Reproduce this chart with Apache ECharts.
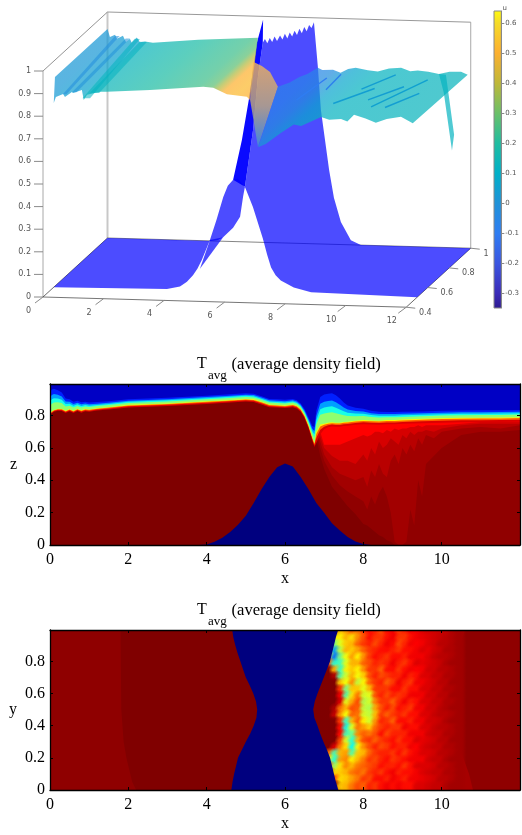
<!DOCTYPE html>
<html><head><meta charset="utf-8">
<style>html,body{margin:0;padding:0;background:#fff}#c{width:522px;height:835px}</style>
<script src="https://cdn.jsdelivr.net/npm/echarts@6/dist/echarts.min.js"></script>
</head><body><div id="c"></div>
<script>
// ---------- colour bar values ----------
const colorbarU=[-0.35,-0.3,-0.2,-0.1,0,0.1,0.2,0.3,0.4,0.5,0.6,0.64];
const colorbarHex=['#2e1a90','#3a2bb8','#3b55e0','#2f7df2','#2092d8','#00b0c8','#20bda0','#6cc068','#c0b838','#fdb030','#f5dc28','#fffa10'];
const colorbarTicks=[-0.3,-0.2,-0.1,0,0.1,0.2,0.3,0.4,0.5,0.6];
// ---------- 3D panel ticks ----------
const ticks3Dx=[0,2,4,6,8,10,12];
const ticks3Dy=[0.4,0.6,0.8,1];
const ticks3Dz=[0,0.1,0.2,0.3,0.4,0.5,0.6,0.7,0.8,0.9,1];
// ---------- 3D panel: topography ----------
const hillFrontX=[0,3.74,4.17,4.4,4.6,4.75,4.89,5.16,5.38,5.6,5.75,5.92,6.08,6.32,6.58,6.91,7.05,7.18,7.33,7.5,7.93,8.5,12];
const hillFrontZ=[0,.006,.019,.04,.07,.1,.139,.228,.32,.42,.47,.497,.504,.466,.38,.24,.17,.114,.08,.058,.028,.01,0];
const hillBackX=[0,3.4,3.65,3.82,4.15,4.38,4.48,4.54,4.81,4.97,5.13,5.2,5.28,5.36,5.44,5.52,5.6,5.7,5.78,5.86,5.94,6.02,6.1,6.18,6.26,6.34,6.42,6.5,6.58,6.66,6.74,6.82,6.95,7.05,7.32,7.48,7.71,8.04,8.37,12];
const hillBackZ=[0,0,.005,.018,.061,.11,.2,.244,.497,.732,.883,.9,.882,.905,.888,.912,.893,.918,.9,.926,.905,.932,.915,.94,.922,.95,.93,.958,.94,.968,.955,.98,.783,.593,.33,.206,.1,.02,0,0];
const foldX=[4.15,4.44,4.67,4.94,5.14];
const foldZ=[.273,.45,.63,.885,.985];
// ---------- 3D panel: free surface ----------
const surfFrontX=[0,.07,.31,.37,.6,.64,.93,.99,1.1,1.53,1.75,3.18,4.94,5.27,5.72,6.38,6.48];
const surfFrontZ=[.815,.842,.856,.843,.866,.862,.876,.832,.855,.87,.871,.884,.905,.902,.875,.866,.853];
const surfBackX=[0,.08,.25,.31,.51,.61,.74,.8,.97,1.07,1.24,1.5,3,4.97];
const surfBackZ=[.925,.89,.9,.883,.897,.87,.884,.867,.891,.87,.874,.87,.888,.905];
const surfGradX=[0,1,1.3,3,4.5,4.95,5.2,5.5,6,6.5];
const surfGradU=[.02,.06,.13,.19,.24,.28,.38,.5,.52,.5];
const humpX=[4.81,5.1,5.37,5.63,4.97,4.71];
const humpZ=[.798,.78,.755,.69,.422,.629];
const wakeFrontX=[6.75,7,7.5,7.93,8.17,8.83,9.1,9.49,9.7,9.92,10.3,10.64,11,11.47,11.86];
const wakeFrontZ=[.645,.66,.71,.75,.744,.786,.775,.78,.77,.8,.785,.768,.785,.797,.77];
const wakeBackX=[5.63,6,6.36,6.6,6.95,7.1,7.45,7.7,7.95,8.2,8.6,8.93,9.3,9.7,10,10.25,10.6,10.95,11.3,11.68,11.9];
const wakeBackZ=[.69,.71,.737,.75,.78,.77,.772,.76,.778,.784,.775,.77,.785,.79,.775,.78,.775,.767,.778,.78,.767];
const wakeGradX=[5.6,7,7.6,8.2,9,12];
const wakeGradU=[-.08,-.06,-.02,.07,.12,.13];
const dripX=[10.95,11.18,11.45,11.38,11.11];
const dripZ=[.767,.764,.5,.43,.685];
const ridgeFrontX=[[.3,.42],[.6,.75],[.95,1.2],[1.2,1.5]];
const ridgeBackX=[[.25,.4],[.6,.74],[.9,1.07],[1.07,1.3]];
const ridgeFrontZ=[.855,.865,.84,.865];
const ridgeBackZ=[.895,.885,.885,.872];
const ridgeU=[-.02,.0,.12,.12];
const streakX=[[10.03,10.9],[7.98,7.93],[9.69,10.38],[8.7,9.5],[9.1,9.7],[7.4,7.6],[10.5,11.1]];
const streakS=[[.255,.82],[.57,.88],[.39,.67],[.3,.62],[.6,.9],[.35,.8],[.25,.55]];
const streakU=[.11,-.02,.1,.1,.1,-.04,.1];
// ---------- middle panel ----------
const midX=[0,.05,.1,.2,.3,.4,.5,.6,.7,.8,.9,1,1.2,1.5,2,3,4,4.5,5,5.2,5.4,5.6,5.8,6,6.2,6.3,6.4,6.5,6.6,6.7,6.75,6.8,6.9,7,7.1,7.2,7.3,7.4,7.5,7.6,7.8,8,8.2,8.4,8.6,8.8,9,9.5,10,10.5,11,11.5,12];
const midZ=[.817,.826,.835,.842,.842,.83,.84,.83,.842,.832,.84,.838,.845,.852,.866,.875,.888,.895,.903,.9,.885,.868,.865,.862,.868,.86,.84,.8,.74,.665,.63,.7,.745,.75,.755,.758,.755,.755,.76,.762,.768,.772,.77,.768,.772,.772,.775,.78,.784,.786,.787,.788,.79];
const midBelow=[.012,.012,.012,.012,.014,.014,.014,.014,.014,.014,.014,.014,.014,.015,.016,.016,.016,.016,.016,.016,.016,.016,.016,.016,.016,.016,.016,.016,.018,.02,.025,.07,.06,.035,.028,.025,.024,.024,.024,.025,.025,.025,.025,.025,.026,.026,.026,.028,.028,.028,.028,.028,.028];
const midAbove=[.13,.135,.13,.115,.1,.075,.06,.055,.05,.05,.045,.042,.038,.036,.035,.035,.035,.035,.035,.035,.035,.035,.035,.035,.035,.035,.035,.04,.05,.07,.1,.13,.17,.18,.18,.18,.17,.15,.12,.1,.08,.07,.06,.055,.05,.05,.048,.045,.045,.045,.045,.045,.045];
const contourT=[.92,.8,.66,.52,.38,.26,.14,.06];
const contourFrac=[-1,-.55,-.2,0,.35,.55,.75,1];
const hillX=[3.8,4,4.2,4.4,4.6,4.8,5,5.2,5.4,5.6,5.8,6,6.2,6.4,6.6,6.8,7,7.2,7.4,7.6,7.8,8,8.2];
const hillZ=[0,.003,.02,.045,.08,.125,.18,.26,.345,.42,.48,.503,.485,.42,.345,.26,.2,.135,.09,.05,.022,.006,0];
const plumeX=[6.8,6.9,7,7.2,7.4,7.6,7.8,8,8.1,8.2,8.3,8.4,8.5,8.6,8.7,8.8,8.9,9,9.1,9.2,9.3,9.4,9.5,9.6,9.8,10,10.5,11,11.5,12];
const plumeT=[.985,.97,.95,.925,.89];
const plumeLow=[
 [.66,.55,.47,.36,.3,.24,.19,.13,.12,.1,.08,.06,.05,.03,.02,0,0,0,0,0,0,0,0,0,0,0,0,0,0,0],
 [.7,.6,.52,.43,.37,.33,.3,.27,.22,.3,.25,.32,.36,.3,.2,.02,0,0,.02,.22,.12,.4,.3,.5,.55,.6,.68,.7,.7,.71],
 [.72,.64,.56,.48,.44,.42,.4,.42,.36,.46,.42,.5,.44,.42,.52,.56,.5,.6,.56,.62,.58,.66,.62,.68,.66,.7,.72,.73,.72,.74],
 [.76,.67,.6,.55,.52,.52,.5,.56,.52,.6,.56,.64,.6,.62,.66,.64,.62,.68,.66,.7,.68,.7,.7,.71,.7,.72,.74,.75,.75,.75],
 [.8,.7,.62,.62,.62,.64,.66,.68,.67,.68,.7,.7,.69,.71,.7,.72,.71,.72,.72,.73,.73,.74,.73,.74,.74,.74,.75,.76,.76,.76]
];
// ---------- bottom panel ----------
const botY=[0,.05,.1,.15,.2,.25,.3,.35,.4,.45,.5,.55,.6,.65,.7,.75,.8,.85,.9,.95,1];
const botLeftEdge=[4.63,4.66,4.7,4.75,4.8,4.9,5,5.11,5.2,5.27,5.29,5.26,5.19,5.1,5,4.93,4.86,4.79,4.73,4.68,4.65];
const botRightEdge=[7.36,7.3,7.25,7.2,7.15,7.07,6.98,6.9,6.83,6.75,6.72,6.76,6.83,6.91,6.99,7.07,7.15,7.2,7.25,7.3,7.36];
const inflowY=[0,.05,.1,.15,.2,.3,.5,1];
const inflowX=[2.2,2.1,2.05,2,1.95,1.88,1.82,1.8];
const fadeY=[0,.1,.2,.3,.5,.7,.85,1];
const fadeX=[10.8,10.7,10.55,10.35,10.3,10.3,10.4,10.6];
const heatX=[6.7,6.85,7,7.15,7.3,7.45,7.6,7.75,7.9,8.05,8.2,8.35,8.5,8.65,8.8,8.95,9.1,9.25,9.4,9.55,9.7,9.85,10,10.15,10.3,10.45];
const heatY=[.98,.94,.9,.86,.82,.78,.74,.7,.66,.62,.58,.54,.5,.46,.42,.38,.34,.3,.26,.22,.18,.14,.1,.06,.02];
const heatT=[
[100,100,100,100,100,70,74,80,78,84,88,86,82,88,90,84,86,90,90,92,93,93,94,94,96,97],
[100,100,100,100,66,66,72,68,76,82,88,84,84,88,90,84,84,88,90,91,92,93,94,95,96,97],
[100,100,100,100,50,62,70,72,80,84,86,82,86,90,88,82,86,90,89,90,92,93,95,95,96,97],
[100,100,100,60,26,58,72,70,74,80,84,86,88,88,86,84,88,88,90,92,91,93,94,96,96,97],
[100,100,100,60,22,50,64,74,66,76,84,88,86,84,88,88,86,90,90,90,92,94,95,95,96,97],
[100,100,100,82,40,44,62,72,72,80,82,86,84,86,90,86,84,88,92,91,92,93,94,96,97,97],
[100,100,100,100,72,42,66,70,66,76,84,84,80,88,88,84,88,90,89,90,93,93,95,95,96,97],
[100,100,100,100,96,46,60,72,64,70,82,86,82,84,86,86,90,86,88,92,92,94,94,96,96,97],
[100,100,100,100,100,70,64,76,58,66,80,84,86,80,84,90,86,84,90,90,92,93,95,95,97,97],
[100,100,100,100,100,84,50,70,70,62,72,84,84,84,88,88,84,88,88,92,92,94,94,96,96,97],
[100,100,100,100,100,90,46,68,78,60,62,82,86,82,86,84,86,90,90,90,93,93,95,95,97,97],
[100,100,100,100,100,92,62,74,82,56,60,78,84,84,80,86,90,86,88,92,92,94,94,96,96,97],
[100,100,100,100,96,78,72,82,80,58,56,74,82,86,82,88,86,84,90,90,93,93,95,96,97,97],
[100,100,100,100,94,74,64,80,78,60,58,72,84,80,84,86,84,88,88,92,92,94,95,95,96,97],
[100,100,100,100,100,84,42,72,80,66,60,76,86,84,80,88,88,86,90,90,93,93,94,96,97,97],
[100,100,100,100,100,88,38,62,78,74,70,80,84,86,84,84,90,88,88,92,92,94,95,95,96,97],
[100,100,100,100,100,88,44,48,76,80,78,82,88,82,86,86,86,90,90,90,93,94,94,96,96,97],
[100,100,100,100,100,82,60,40,72,82,84,80,84,86,88,84,88,88,92,91,92,93,95,95,97,97],
[100,100,100,100,92,76,68,36,66,76,82,86,82,84,88,86,86,90,89,92,93,94,94,96,96,97],
[100,100,100,78,44,72,74,46,70,72,80,84,86,86,84,88,84,88,90,92,92,93,95,95,96,97],
[100,100,100,64,40,74,76,66,72,78,84,82,86,88,84,86,88,90,90,90,93,94,94,96,97,97],
[100,100,100,84,54,68,76,72,78,80,82,84,88,86,86,88,84,88,92,92,92,93,95,95,96,97],
[100,100,100,100,68,70,72,78,80,78,84,86,84,88,90,86,88,88,90,92,93,94,94,96,96,97],
[100,100,100,100,82,68,70,74,78,84,82,88,88,86,90,88,86,90,90,91,92,93,95,95,96,97],
[100,100,100,100,100,70,72,78,82,80,86,84,88,90,88,90,88,88,92,92,93,94,94,96,97,97]
];
const xTicks=[0,2,4,6,8,10,12];

// ---------- colour helpers ----------
const jetStops=[[0,0,0,127],[.11,0,0,255],[.35,0,255,255],[.5,127,255,127],[.65,255,255,0],[.89,255,0,0],[1,127,0,0]];
function jet(v){v=Math.max(0,Math.min(1,v));for(let i=1;i<jetStops.length;i++){if(v<=jetStops[i][0]){const a=jetStops[i-1],b=jetStops[i],t=(v-a[0])/(b[0]-a[0]);return [1,2,3].map(k=>Math.round(a[k]+(b[k]-a[k])*t));}}return [127,0,0];}
const jetCss=(v,al)=>{const c=jet(v);return al===undefined?`rgb(${c})`:`rgba(${c},${al})`;};
function hexRgb(h){return [1,3,5].map(i=>parseInt(h.substr(i,2),16));}
function parula(u){for(let i=1;i<colorbarU.length;i++){if(u<=colorbarU[i]){const a=hexRgb(colorbarHex[i-1]),b=hexRgb(colorbarHex[i]),t=Math.max(0,(u-colorbarU[i-1])/(colorbarU[i]-colorbarU[i-1]));return `rgb(${a.map((v,k)=>Math.round(v+(b[k]-v)*t))})`;}}return colorbarHex[colorbarHex.length-1];}

// ---------- oblique projection for the 3D panel ----------
const O=[43,297],AX=[30.27,.85],AY=[64.5,-59],AZ=226;
const P=(x,y,z)=>{const t=(y-.4)/.6;return [O[0]+AX[0]*x+AY[0]*t,O[1]+AX[1]*x+AY[1]*t-AZ*z];};
const curve=(xs,zs,y)=>xs.map((x,i)=>P(x,y,zs[i]));
const pick=(xs,zs,lo,hi)=>{const a=[],b=[];xs.forEach((x,i)=>{if(x>=lo&&x<=hi){a.push(x);b.push(zs[i]);}});return [a,b];};
function xGradient(xs,us,z){
  const dn=Math.hypot(49,53.75),nx=49/dn,ny=53.75/dn;
  const A=P(xs[0],.5,z),B=P(xs[xs.length-1],.5,z);
  const L=(B[0]-A[0])*nx+(B[1]-A[1])*ny;
  const stops=xs.map((x,i)=>({offset:(x-xs[0])/(xs[xs.length-1]-xs[0]),color:parula(us[i])}));
  return new echarts.graphic.LinearGradient(A[0],A[1],A[0]+nx*L,A[1]+ny*L,stops,true);
}

// ---------- build 3D polygons ----------
const polys3D=[];
const BLUE='rgb(0,0,255)';
{
  const [fl,flz]=pick(hillFrontX,hillFrontZ,0,6.32), [bl,blz]=pick(hillBackX,hillBackZ,0,4.54);
  polys3D.push({pts:curve(fl,flz,.5).concat(curve(bl,blz,1).reverse()),fill:BLUE,op:.7});
  const [fr,frz]=pick(hillFrontX,hillFrontZ,6.32,12), [br,brz]=pick(hillBackX,hillBackZ,4.54,12);
  polys3D.push({pts:curve(fr,frz,.5).concat(curve(br,brz,1).reverse()),fill:BLUE,op:.7});
  // double-covered fold of the hillside
  const [b2,b2z]=pick(hillBackX,hillBackZ,4.54,5.13);
  polys3D.push({pts:curve(foldX,foldZ,1).concat(curve(b2,b2z,1).reverse()),fill:BLUE,op:.96});
  polys3D.push({pts:[P(4.83,.5,.1),P(5.16,.5,.228),P(3.82,1,.018)],fill:BLUE,op:.7});
  // free surface, left part
  polys3D.push({pts:curve(surfFrontX,surfFrontZ,.5).concat(curve(surfBackX,surfBackZ,1).reverse(),[P(.04,.5,.93)]),
    fill:xGradient(surfGradX,surfGradU,.87),op:.72});
  ridgeFrontX.forEach((r,i)=>{
    polys3D.push({pts:[P(r[0],.5,ridgeFrontZ[i]),P(r[1],.5,ridgeFrontZ[i]),P(ridgeBackX[i][1],1,ridgeBackZ[i]),P(ridgeBackX[i][0],1,ridgeBackZ[i])],fill:parula(ridgeU[i]),op:.55});
  });
  // hump seen through the sheet
  const h=curve(humpX,humpZ,1);
  polys3D.push({pts:h,fill:new echarts.graphic.LinearGradient(0,62,0,150,[{offset:0,color:'rgba(250,185,80,.78)'},{offset:.5,color:'rgba(190,170,120,.8)'},{offset:1,color:'rgba(50,140,225,.85)'}].map(s=>s),true),op:1});
  // wake part
  polys3D.push({pts:curve(wakeFrontX,wakeFrontZ,.5).concat(curve(wakeBackX,wakeBackZ,1).reverse()),fill:xGradient(wakeGradX,wakeGradU,.78),op:.72});
  polys3D.push({pts:curve(dripX,dripZ,1),fill:parula(.12),op:.7});
}
const lines3D=[];
const c=(x,y,z)=>P(x,y,z);
lines3D.push({pts:[c(0,1,0),c(0,1,1)],col:'#c8c8c8',w:2});
lines3D.push({pts:[c(0,.4,0),c(0,.4,1)],col:'#a8a8a8',w:1});
lines3D.push({pts:[c(12,1,0),c(12,1,1)],col:'#a8a8a8',w:1});
lines3D.push({pts:[c(0,.4,1),c(0,1,1)],col:'#777',w:.8});
lines3D.push({pts:[c(0,1,1),c(12,1,1)],col:'#999',w:1});
lines3D.push({pts:[c(0,1,0),c(12,1,0)],col:'#777',w:.9});
lines3D.push({pts:[c(0,.4,0),c(12,.4,0)],col:'#666',w:.9});
lines3D.push({pts:[c(0,.4,0),c(0,1,0)],col:'#444',w:.8});
lines3D.push({pts:[c(12,.4,0),c(12,1,0)],col:'#444',w:.8});
const tickLines=[], labels3D=[];
ticks3Dz.forEach(z=>{const p=P(0,.4,z);tickLines.push([p,[p[0]-9,p[1]]]);labels3D.push({t:String(z),p:[31,p[1]],a:'right'});});
ticks3Dx.forEach(x=>{const p=P(x,.4,0);tickLines.push([p,[p[0]-8,p[1]+6]]);labels3D.push({t:String(x),p:[p[0]-14.5,p[1]+14],a:'center'});});
ticks3Dy.forEach(y=>{const p=P(12,y,0);tickLines.push([p,[p[0]+9,p[1]+1]]);labels3D.push({t:String(y),p:[p[0]+12.7,p[1]+5.5],a:'left'});});
const streaks=streakX.map((xs,i)=>({a:P(xs[0],.5+.5*streakS[i][0],.78),b:P(xs[1],.5+.5*streakS[i][1],.78),col:parula(streakU[i]-.06)}));

// ---------- polygons for the middle panel ----------
const midPolys=[];
const areaTop=1.02;
plumeT.forEach((t,k)=>{
  const pts=plumeX.map((x,i)=>[x,plumeLow[k][i]]);
  midPolys.push({pts:[[plumeX[0],areaTop]].concat(pts,[[12,areaTop]]),fill:jetCss(t)});
});
contourT.forEach((t,k)=>{
  const f=contourFrac[k];
  const pts=midX.map((x,i)=>[x,midZ[i]+(f<0?f*midBelow[i]:f*midAbove[i])]);
  midPolys.push({pts:[[0,areaTop]].concat(pts,[[12,areaTop]]),fill:jetCss(t)});
});
midPolys.push({pts:hillX.map((x,i)=>[x,hillZ[i]]),fill:jetCss(0)});

// ---------- polygons for the bottom panel (drawn under/over the heat cells) ----------
const botUnder=[
  {pts:[[0,0],[12,0],[12,1],[0,1]],fill:'#800000'},
  {pts:[[0,0]].concat(inflowY.map((y,i)=>[inflowX[i],y]),[[0,1]]),fill:'#8f0000'},
  {pts:[[7,0],[12,0],[12,1],[7,1]],fill:'#8f0000'},
  {pts:[[9.6,0]].concat(fadeY.map((y,i)=>[fadeX[i],y]),[[9.6,1]]),fill:'#a60000'}
];
const botOver=[{pts:botY.map((y,i)=>[botLeftEdge[i],y]).concat(botY.map((y,i)=>[botRightEdge[i],y]).reverse()),fill:jetCss(0)}];
const heatData=[];
heatT.forEach((row,r)=>row.forEach((v,i)=>heatData.push([heatX[i],heatY[r],v/100])));

// ---------- generic render helpers ----------
const polySeries=(polys,xi,yi,z,clip)=>({type:'custom',xAxisIndex:xi,yAxisIndex:yi,z:z,clip:clip,silent:true,animation:false,
  data:polys.map((p,i)=>[i]),encode:{x:[],y:[]},
  renderItem:(params,api)=>{const p=polys[params.dataIndex];
    return {type:'polygon',shape:{points:p.pts.map(q=>api.coord(q))},style:{fill:p.fill,opacity:p.op===undefined?1:p.op}};}});
const lineSeries=(ls,xi,yi,z)=>({type:'custom',xAxisIndex:xi,yAxisIndex:yi,z:z,silent:true,animation:false,clip:false,
  data:ls.map((p,i)=>[i]),encode:{x:[],y:[]},
  renderItem:(params,api)=>{const p=ls[params.dataIndex];
    return {type:'polyline',shape:{points:p.pts.map(q=>api.coord(q))},style:{fill:null,stroke:p.col,lineWidth:p.w}};}});

const SERIF='"Liberation Serif","Times New Roman",serif', SANS='"DejaVu Sans",sans-serif';
const ink='#000';
const mainX=(g,top)=>({type:'value',gridIndex:g,min:0,max:12,interval:2,position:top?'top':'bottom',z:10,
  name:top?'':'x',nameLocation:'middle',nameGap:26,nameTextStyle:{fontFamily:SERIF,fontSize:16,color:ink},
  axisLine:{show:true,onZero:false,lineStyle:{color:ink,width:1.3}},axisTick:{show:true,inside:true,length:3,lineStyle:{color:ink,width:1}},
  splitLine:{show:false},axisLabel:{show:!top,showMaxLabel:false,margin:7,fontFamily:SERIF,fontSize:16,color:ink}});
const mainY=(g,right,name)=>({type:'value',gridIndex:g,min:0,max:.995,interval:.2,position:right?'right':'left',z:10,
  name:right?'':name,nameLocation:'middle',nameRotate:0,nameGap:33,nameTextStyle:{fontFamily:SERIF,fontSize:16,color:ink,padding:[0,0,14,0]},
  axisLine:{show:true,onZero:false,lineStyle:{color:ink,width:1.3}},axisTick:{show:true,inside:true,length:3,lineStyle:{color:ink,width:1}},
  splitLine:{show:false},axisLabel:{show:!right,showMaxLabel:false,margin:5,fontFamily:SERIF,fontSize:16,color:ink,formatter:v=>String(+v.toFixed(1))}});
const titleFor=(dy)=>[
  {text:'T',left:192,top:351+dy,textStyle:{fontFamily:SERIF,fontSize:16,fontWeight:'normal',color:ink}},
  {text:'avg',left:203,top:364+dy,textStyle:{fontFamily:SERIF,fontSize:13,fontWeight:'normal',color:ink}},
  {text:'(average density field)',left:226.5,top:351+dy,textStyle:{fontFamily:SERIF,fontSize:16.6,fontWeight:'normal',color:ink}}
];
const hidden={show:false};
const chart=echarts.init(document.getElementById('c'),null,{renderer:'canvas',width:522,height:835});
chart.setOption({
  animation:false,backgroundColor:'#fff',
  title:titleFor(0).concat(titleFor(246),[{text:'u',left:497.5,top:0,textStyle:{fontFamily:SANS,fontSize:7,fontWeight:'normal',color:'#555'}}]),
  grid:[
    {left:0,top:0,width:522,height:835},
    {left:50,top:384,width:470,height:161},
    {left:50,top:630,width:470,height:160},
    {left:494,top:11,width:13,height:297}
  ],
  xAxis:[
    {type:'value',gridIndex:0,min:0,max:522,...hidden},
    mainX(1,false),mainX(1,true),mainX(2,false),mainX(2,true),
    {type:'value',gridIndex:3,min:0,max:1,...hidden}
  ],
  yAxis:[
    {type:'value',gridIndex:0,min:0,max:835,inverse:true,...hidden},
    mainY(1,false,'z'),mainY(1,true),mainY(2,false,'y'),mainY(2,true),
    {type:'value',gridIndex:3,min:-.35,max:.64,position:'right',z:10,
     axisLine:{show:true,onZero:false,lineStyle:{color:'#888',width:1}},
     axisTick:{show:true,length:3,customValues:colorbarTicks,lineStyle:{color:'#888'}},
     splitLine:{show:false},
     axisLabel:{show:true,margin:4,fontFamily:SANS,fontSize:7,color:'#555',customValues:colorbarTicks,formatter:v=>String(v)}}
  ],
  series:[
    lineSeries(lines3D,0,0,2),
    polySeries(polys3D,0,0,3,false),
    lineSeries(streaks.map(s=>({pts:[s.a,s.b],col:s.col,w:1.4})),0,0,4),
    lineSeries(tickLines.map(t=>({pts:t,col:'#8a8a8a',w:1})),0,0,4),
    {type:'custom',xAxisIndex:0,yAxisIndex:0,z:5,silent:true,animation:false,clip:false,
     data:labels3D.map((l,i)=>[i]),encode:{x:[],y:[]},
     renderItem:(params,api)=>{const l=labels3D[params.dataIndex],q=api.coord(l.p);
       return {type:'text',style:{text:l.t,x:q[0],y:q[1],align:l.a,verticalAlign:'middle',fontFamily:SANS,fontSize:8,fill:'#555'}};}},
    // colour bar
    {type:'custom',xAxisIndex:5,yAxisIndex:5,z:3,silent:true,animation:false,clip:false,
     data:[[0]],encode:{x:[],y:[]},
     renderItem:(params,api)=>{const a=api.coord([0,.64]),b=api.coord([1,-.35]);
       const stops=colorbarU.map((u,i)=>({offset:(u+.35)/.99,color:colorbarHex[i]}));
       return {type:'rect',shape:{x:a[0],y:a[1],width:b[0]-a[0],height:b[1]-a[1]},
         style:{fill:new echarts.graphic.LinearGradient(0,1,0,0,stops),stroke:'#888',lineWidth:1}};}},
    // middle
    polySeries([{pts:[[0,0],[12,0],[12,1.02],[0,1.02]],fill:'#7f0000'}],1,1,2,true),
    polySeries(midPolys,1,1,3,true),
    // bottom
    polySeries(botUnder,3,3,2,true),
    {type:'custom',xAxisIndex:3,yAxisIndex:3,z:3,clip:true,silent:true,animation:false,
     data:heatData,encode:{x:0,y:1},
     renderItem:(params,api)=>{const q=api.coord([api.value(0),api.value(1)]),v=api.value(2),r=7.5;
       return {type:'rect',shape:{x:q[0]-r,y:q[1]-r,width:2*r,height:2*r},
         style:{fill:new echarts.graphic.RadialGradient(.5,.5,.5,[{offset:0,color:jetCss(v,1)},{offset:.45,color:jetCss(v,.85)},{offset:1,color:jetCss(v,0)}])}};}},
    polySeries(botOver,3,3,4,true)
  ]
});
</script></body></html>
